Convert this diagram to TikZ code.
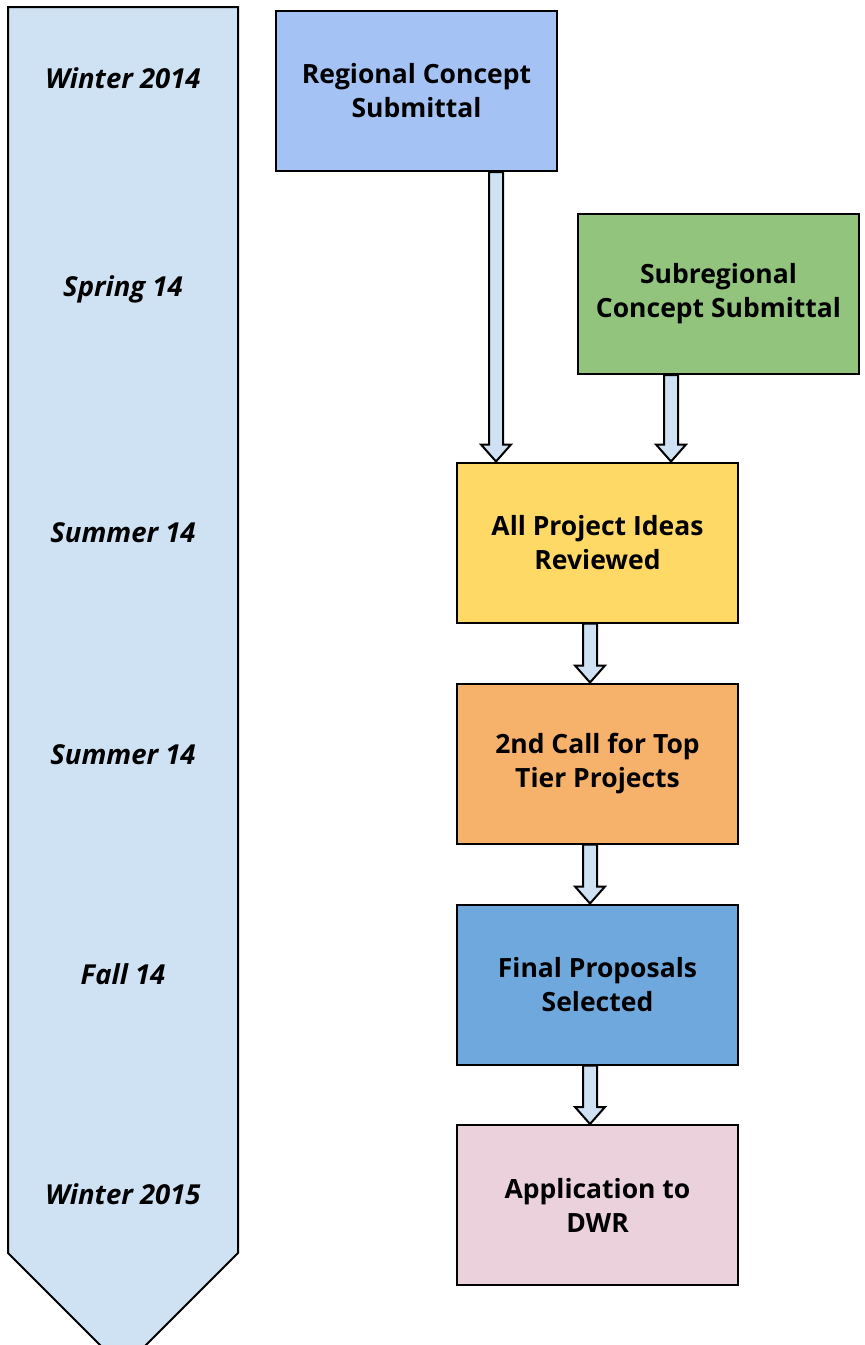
\documentclass[tikz,border=0pt]{standalone}
\usepackage{fontspec}
\setmainfont{Open Sans}
\definecolor{TimelineFill}{HTML}{CFE2F3}
\definecolor{RegionalFill}{HTML}{A4C2F4}
\definecolor{SubregionalFill}{HTML}{93C47D}
\definecolor{ReviewFill}{HTML}{FFD966}
\definecolor{CallFill}{HTML}{F6B26B}
\definecolor{SelectedFill}{HTML}{6FA8DC}
\definecolor{ApplicationFill}{HTML}{EAD1DC}
\usetikzlibrary{calc}
\tikzset{
    stage box/.style={
        draw=black, line width=2pt, minimum width=281pt, minimum height=160pt,
        align=center, font=\bfseries\fontsize{26.5}{34}\selectfont
    },
    season label/.style={anchor=base, font=\bfseries\itshape\fontsize{27.5}{34}\selectfont},
    block arrow/.style={draw=black, line width=2pt, fill=TimelineFill, line join=miter}
}
\newcommand\blockarrow[2]{%
    \draw[block arrow] let \p1=(#1), \p2=(#2) in
        (\x1-7pt,\y1) -- (\x1+7pt,\y1) -- (\x1+7pt,\y2+17pt) -- (\x1+15pt,\y2+17pt)
        -- (\x1,\y2) -- (\x1-15pt,\y2+17pt) -- (\x1-7pt,\y2+17pt) -- cycle;
}

\begin{document}
\begin{tikzpicture}[x=1pt, y=-1pt]

\path[use as bounding box, clip] (0,0) rectangle (865,1345);

% Dibujar la flecha de la linea de tiempo.
\draw[line width=2pt, fill=TimelineFill] (8,7) -- (238,7) -- (238,1253) -- (123,1368) -- (8,1253) -- cycle;

% Nombrar cada etapa de la linea de tiempo.
\node[season label] (winter14) at (123,88) {Winter 2014};
\node[season label] (spring14) at (123,296) {Spring 14};
\node[season label] (summer14a) at (123,542) {Summer 14};
\node[season label] (summer14b) at (123,764) {Summer 14};
\node[season label] (fall14) at (123,984) {Fall 14};
\node[season label] (winter15) at (123,1204) {Winter 2015};

% Cajas de cada paso del proceso.
\node[stage box, fill=RegionalFill] (regional) at (416.5,91) {Regional Concept\\Submittal};
\node[stage box, fill=SubregionalFill] (subregional) at (718.5,294) {Subregional\\Concept Submittal};
\node[stage box, fill=ReviewFill] (review) at (597.5,542.5) {All Project Ideas\\Reviewed};
\node[stage box, fill=CallFill] (call) at (597.5,763.5) {2nd Call for Top\\Tier Projects};
\node[stage box, fill=SelectedFill] (selected) at (597.5,984.5) {Final Proposals\\Selected};
\node[stage box, fill=ApplicationFill] (application) at (597.5,1205) {Application to\\DWR};

% Puntos de salida de las flechas.
\coordinate (regional out) at ([xshift=79.5pt]regional.south);
\coordinate (subregional out) at ([xshift=-47.5pt]subregional.south);
\coordinate (review out) at ([xshift=-7.5pt]review.south);
\coordinate (call out) at ([xshift=-7.5pt]call.south);
\coordinate (selected out) at ([xshift=-7.5pt]selected.south);

% Flechas entre los pasos.
\blockarrow{regional out}{regional out |- review.north}
\blockarrow{subregional out}{subregional out |- review.north}
\blockarrow{review out}{review out |- call.north}
\blockarrow{call out}{call out |- selected.north}
\blockarrow{selected out}{selected out |- application.north}

\end{tikzpicture}
\end{document}
